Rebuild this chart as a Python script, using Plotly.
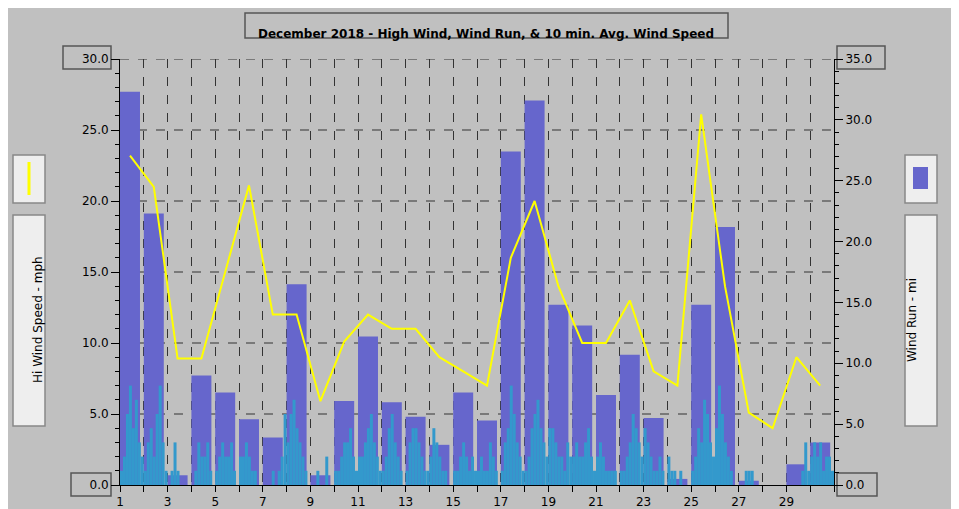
import plotly.graph_objects as go

days = list(range(1, 31))
wind_run = [32.3, 22.3, 0.8, 9.0, 7.6, 5.4, 3.9, 16.5, 0.8, 6.9, 12.2, 6.8, 5.6, 3.3, 7.6,
            5.3, 27.4, 31.6, 14.8, 13.1, 7.4, 10.7, 5.5, 0.5, 14.8, 21.2, 0.35, 0.0, 1.7, 3.5]
hi_wind = [23.2, 21.0, 8.9, 8.9, 15.0, 21.1, 12.0, 12.0, 5.9, 10.1, 12.0, 11.0, 11.0, 9.0, 8.0,
           7.0, 16.0, 20.0, 14.0, 10.0, 10.0, 13.0, 8.0, 7.0, 26.1, 14.0, 5.1, 4.0, 9.0, 7.0]
avg_wind = [
    [1,2,5,7,4,6,3,2],[1,3,4,2,5,7,3,1],[0,1,3,1,0,0,0,0],[0,1,3,2,2,3,1,0],
    [1,2,3,2,2,3,1,0],[2,2,3,2,1,1,0,0],[0,0,0,1,0,1,2,5],[3,5,6,4,3,2,1,0],
    [0,0,1,0,0,2,0,0],[1,1,2,3,3,4,2,1],[2,2,3,4,5,3,2,1],[1,2,4,5,3,2,1,0],
    [1,3,4,4,3,2,1,1],[2,4,3,2,1,1,0,0],[1,1,2,3,2,1,2,1],[1,2,1,1,3,2,1,0],
    [1,3,4,7,5,3,2,1],[1,2,4,5,6,4,3,2],[4,4,3,2,2,1,3,2],[2,3,2,2,3,4,2,1],
    [2,3,2,1,1,1,1,0],[1,1,2,3,5,4,3,2],[4,3,2,1,1,2,1,0],[2,1,1,0,1,0,0,0],
    [1,2,4,3,6,5,3,2],[4,7,5,3,2,1,0,0],[0,0,1,1,1,0,0,0],[0,0,0,0,0,0,0,0],
    [0,0,0,0,0,1,3,1],[2,3,2,3,1,2,2,1]]
tick_vals = list(range(1, 32))
tick_text = [str(d) if d % 2 == 1 and d < 31 else "" for d in tick_vals]
grid_vals = [5, 10, 15, 20, 25, 30]

ax, ay, aw, ah = 112, 51, 714, 426
def px(x): return (x - ax) / aw
def py(y): return (ay + ah - y) / ah

cx, cy = [], []
for d, vals in zip(days, avg_wind):
    for i, v in enumerate(vals):
        cx.append(d + (i + 0.5) / 8)
        cy.append(v)

fig = go.Figure()
fig.add_trace(go.Bar(x=[d + 0.42 for d in days], y=wind_run, width=0.84, yaxis="y",
                     marker=dict(color="#6666cc", line=dict(width=0)), name="Wind Run"))
fig.add_trace(go.Bar(x=cx, y=cy, width=1/8, yaxis="y2",
                     marker=dict(color="#3399cc", line=dict(width=0)), name="Avg Wind"))
fig.add_trace(go.Scatter(x=[d + 0.42 for d in days], y=hi_wind, mode="lines", yaxis="y2",
                         line=dict(color="#ffff00", width=2), name="Hi Wind"))

tf = dict(family="DejaVu Sans", size=12, color="black")
fig.update_layout(
    width=959, height=509, paper_bgcolor="#c0c0c0", plot_bgcolor="#c0c0c0",
    margin=dict(l=112, r=133, t=51, b=32, autoexpand=False), showlegend=False,
    barmode="overlay", font=tf,
    xaxis=dict(range=[1, 31], tickvals=tick_vals, ticktext=tick_text, showgrid=True,
               gridcolor="#333", griddash="dash", gridwidth=1, ticks="outside", ticklen=6,
               tickcolor="black", showline=True, linecolor="black", zeroline=False,
               automargin=False, tickfont=tf),
    yaxis=dict(range=[0, 35], dtick=5, tickformat=".1f", side="right", showgrid=False,
               ticks="outside", ticklen=8, tickcolor="black",
               minor=dict(dtick=1, ticks="outside", ticklen=4, tickcolor="black"),
               showline=True, linecolor="black", zeroline=False, automargin=False,
               tickfont=tf),
    yaxis2=dict(range=[0, 30], dtick=5, tickformat=".1f", overlaying="y", side="left",
                showgrid=False, ticks="outside", ticklen=8, tickcolor="black",
                minor=dict(dtick=1, ticks="outside", ticklen=4, tickcolor="black"),
                showline=True, linecolor="black", zeroline=False, automargin=False,
                tickfont=tf),
)

shapes = []
for g in grid_vals:
    shapes.append(dict(type="line", xref="paper", yref="y2", x0=0, x1=1, y0=g, y1=g,
                       line=dict(color="#333", width=1, dash="dash"), layer="below"))
def box(x0, y0, x1, y1, fill="#c0c0c0", col="#555"):
    shapes.append(dict(type="rect", xref="paper", yref="paper", x0=px(x0), x1=px(x1),
                       y0=py(y1), y1=py(y0), line=dict(color=col, width=1.5), fillcolor=fill,
                       layer="below"))
box(237, 5, 720, 30)
box(55, 38, 103, 61); box(63, 465, 103, 488)
box(829, 38, 877, 61); box(829, 465, 869, 488)
box(5, 147, 37, 195, fill="#eeeeee", col="#888"); box(5, 207, 37, 418, fill="#eeeeee", col="#888")
box(897, 147, 929, 195, fill="#eeeeee", col="#888"); box(897, 207, 929, 418, fill="#eeeeee", col="#888")
shapes.append(dict(type="line", xref="paper", yref="paper", x0=px(21), x1=px(21),
                   y0=py(187), y1=py(154), line=dict(color="#ffff00", width=3)))
shapes.append(dict(type="rect", xref="paper", yref="paper", x0=px(905), x1=px(920),
                   y0=py(181), y1=py(159), fillcolor="#6666cc", line=dict(width=0)))
fig.update_layout(shapes=shapes)

fig.add_annotation(x=px(478), y=py(17), xref="paper", yref="paper", showarrow=False,
                   text="<b>December 2018 - High Wind, Wind Run, & 10 min. Avg. Wind Speed</b>",
                   font=tf)
fig.add_annotation(x=px(21), y=py(312), xref="paper", yref="paper", showarrow=False,
                   text="Hi Wind Speed - mph", textangle=-90, font=tf)
fig.add_annotation(x=px(913), y=py(312), xref="paper", yref="paper", showarrow=False,
                   text="Wind Run - mi", textangle=-90, font=tf)

fig.write_html("out.html")
